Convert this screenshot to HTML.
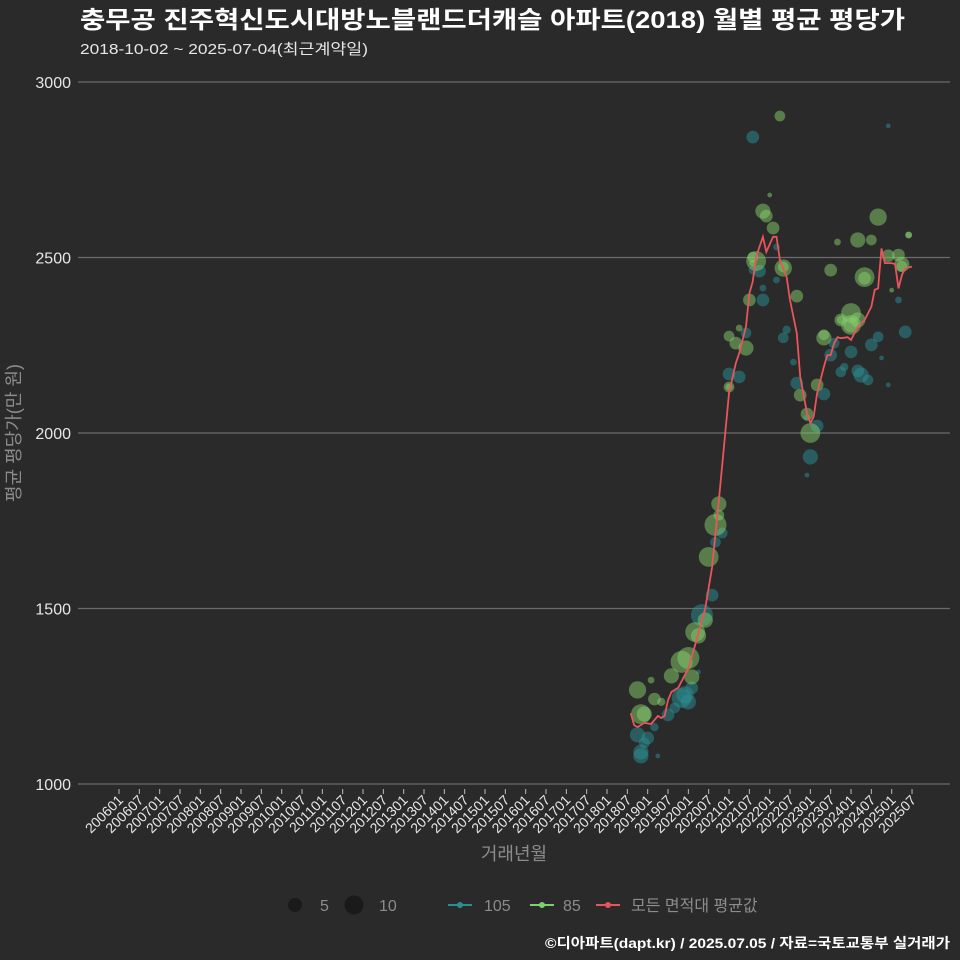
<!DOCTYPE html>
<html><head><meta charset="utf-8">
<style>
html,body{margin:0;padding:0;background:#2a2a2b;}
svg{display:block;font-family:"Liberation Sans","Noto Sans CJK KR",sans-serif;}
</style></head>
<body>
<svg id="chart" width="960" height="960" viewBox="0 0 960 960" xmlns="http://www.w3.org/2000/svg">
<rect x="0" y="0" width="960" height="960" fill="#2a2a2b"/>
<text x="80" y="28" font-size="24" font-weight="bold" fill="#ffffff" textLength="825" lengthAdjust="spacingAndGlyphs">충무공 진주혁신도시대방노블랜드더캐슬 아파트(2018) 월별 평균 평당가</text>
<text x="80" y="54" font-size="15" fill="#e6e6e6" textLength="288" lengthAdjust="spacingAndGlyphs">2018-10-02 ~ 2025-07-04(최근계약일)</text>
<g id="grid"></g>
<g id="yticks"></g>
<g id="xticks"></g>
<g id="bubbles105"></g>
<g id="bubbles85"></g>
<path id="avgline" fill="none" stroke="#e8555a" stroke-width="1.8"/>
<text x="514" y="860" font-size="18" fill="#8c8c8c" text-anchor="middle">거래년월</text>
<text transform="translate(20,433) rotate(-90)" font-size="18" fill="#8c8c8c" text-anchor="middle">평균 평당가(만 원)</text>
<g>
  <circle cx="295" cy="905" r="7" fill="#1a1a1a"/>
  <text x="320" y="911" font-size="16" fill="#8c8c8c">5</text>
  <circle cx="354" cy="905" r="9.5" fill="#1a1a1a"/>
  <text x="379" y="911" font-size="16" fill="#8c8c8c">10</text>
  <line x1="448" y1="905" x2="472" y2="905" stroke="#2a8f93" stroke-width="2"/>
  <circle cx="460" cy="905" r="3" fill="#2a8f93"/>
  <text x="484" y="911" font-size="16" fill="#8c8c8c">105</text>
  <line x1="530" y1="905" x2="554" y2="905" stroke="#7ed06a" stroke-width="2"/>
  <circle cx="542" cy="905" r="3" fill="#7ed06a"/>
  <text x="563" y="911" font-size="16" fill="#8c8c8c">85</text>
  <line x1="596" y1="905" x2="620" y2="905" stroke="#e8555a" stroke-width="2"/>
  <circle cx="608" cy="905" r="3" fill="#e8555a"/>
  <text x="631" y="911" font-size="16" fill="#8c8c8c">모든 면적대 평균값</text>
</g>
<text x="950" y="948" font-size="14" font-weight="bold" fill="#ffffff" text-anchor="end" textLength="405" lengthAdjust="spacingAndGlyphs">©디아파트(dapt.kr) / 2025.07.05 / 자료=국토교통부 실거래가</text>
</svg>
<script>
const yTicks = [1000, 1500, 2000, 2500, 3000];
const xTickLabels = [];
for (let yr = 2006; yr <= 2025; yr++) { xTickLabels.push(yr + "01"); xTickLabels.push(yr + "07"); }

const avgMonths = ["2018-08","2018-09","2018-10","2018-12","2019-02","2019-04","2019-05","2019-06","2019-07","2019-08","2019-10","2020-01","2020-03","2020-06","2020-08","2020-10","2021-01","2021-03","2021-04","2021-06","2021-07","2021-08","2021-09","2021-11","2021-12","2022-02","2022-03","2022-04","2022-06","2022-07","2022-09","2022-10","2022-12","2023-01","2023-02","2023-03","2023-05","2023-06","2023-07","2023-08","2023-09","2023-10","2023-12","2024-01","2024-02","2024-03","2024-05","2024-07","2024-08","2024-09","2024-10","2024-11","2025-01","2025-02","2025-03","2025-04","2025-05","2025-07"];
const avgValues = [1202,1168,1162,1174,1171,1194,1188,1194,1239,1262,1274,1330,1396,1501,1618,1809,2113,2199,2227,2303,2398,2431,2502,2559,2516,2559,2559,2493,2445,2379,2284,2161,2056,2028,2047,2113,2189,2222,2222,2256,2273,2270,2273,2265,2284,2303,2322,2360,2408,2412,2526,2484,2484,2481,2412,2450,2469,2474];

const g85Months = ["2018-10","2018-11","2018-12","2019-02","2019-03","2019-05","2019-08","2019-11","2020-01","2020-02","2020-03","2020-04","2020-06","2020-07","2020-09","2020-10","2020-10","2021-01","2021-01","2021-01","2021-03","2021-04","2021-06","2021-07","2021-08","2021-08","2021-09","2021-11","2021-12","2022-01","2022-02","2022-04","2022-05","2022-05","2022-09","2022-10","2022-12","2023-01","2023-03","2023-05","2023-05","2023-07","2023-09","2023-10","2023-10","2024-01","2024-01","2024-01","2024-03","2024-03","2024-05","2024-05","2024-07","2024-09","2024-12","2025-03","2025-04","2025-04","2025-06","2025-06","2025-01"];
const g85Values = [1268,1199,1199,1296,1242,1234,1308,1348,1359,1305,1433,1422,1467,1647,1738,1766,1798,2131,2131,2276,2256,2299,2242,2379,2501,2484,2490,2632,2618,2678,2584,2903,2470,2473,2390,2108,2054,2000,2137,2271,2280,2464,2544,2322,2322,2308,2308,2342,2550,2322,2444,2441,2550,2615,2505,2507,2480,2475,2564,2564,2407];
const g85Counts = [13,17,10,2,7,3,10,21,21,10,17,10,10,17,21,5,10,2,5,5,7,2,10,7,5,2,17,10,7,1,7,5,13,5,7,7,7,17,7,10,5,7,2,3,7,17,10,17,10,10,17,7,5,13,7,7,10,5,2,2,1];

const g105Months = ["2018-10","2018-11","2018-11","2018-12","2019-01","2019-03","2019-04","2019-07","2019-09","2019-11","2019-12","2020-01","2020-02","2020-04","2020-05","2020-08","2020-09","2020-11","2021-01","2021-04","2021-06","2021-08","2021-08","2021-10","2021-11","2021-11","2022-03","2022-03","2022-05","2022-06","2022-08","2022-09","2022-12","2023-01","2022-12","2023-03","2023-05","2023-07","2023-08","2023-10","2023-11","2024-01","2024-03","2024-04","2024-06","2024-07","2024-09","2024-10","2024-12","2025-03","2025-05","2024-12"];
const g105Values = [1140,1080,1091,1117,1131,1162,1080,1197,1217,1245,1254,1234,1274,1319,1481,1538,1689,1715,2168,2160,2285,2464,2843,2461,2379,2413,2436,2530,2271,2294,2202,2142,2043,1932,1880,2020,2111,2222,2256,2174,2188,2231,2177,2165,2151,2251,2274,2214,2137,2379,2288,2875];
const g105Counts = [10,10,10,5,7,3,1,7,5,17,13,10,7,1,21,7,5,5,7,7,5,3,7,7,7,2,2,2,5,3,2,7,2,10,1,7,7,7,5,5,3,7,7,10,5,7,5,1,1,2,7,1];

const NS = "http://www.w3.org/2000/svg";
const X0 = 119, MONTH_PX = 3.389;
const Y0 = 784, Y_PER = 0.351;
function monthIndex(s){ const p = s.split("-"); return (+p[0]-2006)*12 + (+p[1]-1); }
function xScale(s){ return X0 + monthIndex(s)*MONTH_PX; }
function xScaleIdx(i){ return X0 + i*6*MONTH_PX; }
function yScale(v){ return Y0 - (v-1000)*Y_PER; }
function rScale(n){ return 2.4*Math.sqrt(n); }

const grid = document.getElementById("grid");
const yt = document.getElementById("yticks");
yTicks.forEach(function(v){
  const y = yScale(v);
  const l = document.createElementNS(NS,"line");
  l.setAttribute("x1",78); l.setAttribute("x2",950); l.setAttribute("y1",y); l.setAttribute("y2",y);
  l.setAttribute("stroke","#6a6a6a"); l.setAttribute("stroke-width","1.2");
  
  
  grid.appendChild(l);
  const t = document.createElementNS(NS,"text");
  t.setAttribute("x",71); t.setAttribute("y",y+6); t.setAttribute("text-anchor","end");
  t.setAttribute("font-size","16"); t.setAttribute("fill","#e6e6e6");
  t.textContent = v;
  
  
  yt.appendChild(t);
});
const xt = document.getElementById("xticks");
xTickLabels.forEach(function(lab,i){
  const x = xScaleIdx(i);
  const l = document.createElementNS(NS,"line");
  l.setAttribute("x1",x); l.setAttribute("x2",x); l.setAttribute("y1",789); l.setAttribute("y2",794);
  l.setAttribute("stroke","#bbbbbb"); l.setAttribute("stroke-width","1");
  
  
  xt.appendChild(l);
  const t = document.createElementNS(NS,"text");
  t.setAttribute("transform","translate("+(x+5)+",801) rotate(-45)");
  t.setAttribute("text-anchor","end"); t.setAttribute("font-size","14"); t.setAttribute("fill","#e6e6e6");
  t.textContent = lab;
  
  
  xt.appendChild(t);
});

function drawBubbles(gid, months, values, counts, color, name){
  const g = document.getElementById(gid);
  for (let i=0;i<months.length;i++){
    const c = document.createElementNS(NS,"circle");
    c.setAttribute("cx", xScale(months[i]));
    c.setAttribute("cy", yScale(values[i]));
    c.setAttribute("r", rScale(counts[i]));
    c.setAttribute("fill", color);
    c.setAttribute("fill-opacity", "0.5");
    
    
    g.appendChild(c);
  }
}
drawBubbles("bubbles105", g105Months, g105Values, g105Counts, "#2a8f93", "bubble-105");
drawBubbles("bubbles85", g85Months, g85Values, g85Counts, "#86d06c", "bubble-85");

let d = "";
for (let i=0;i<avgMonths.length;i++){
  d += (i?"L":"M") + xScale(avgMonths[i]).toFixed(1) + "," + yScale(avgValues[i]).toFixed(1);
}
document.getElementById("avgline").setAttribute("d", d);
</script>
</body></html>
